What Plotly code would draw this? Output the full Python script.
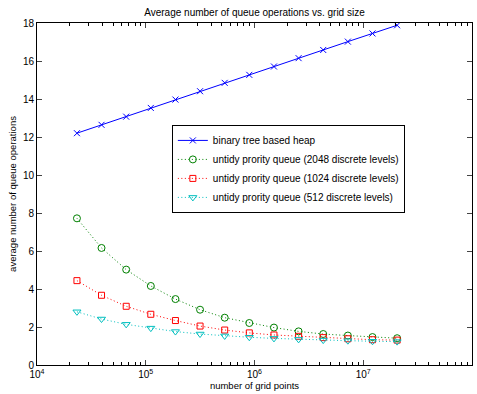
import plotly.graph_objects as go

grid_points = [23300, 39200, 66100, 111300, 187500, 315800, 532000, 896000,
               1510000, 2544000, 4285000, 7220000, 12160000, 20490000]
heap = [12.2, 12.64, 13.07, 13.53, 13.97, 14.41, 14.85, 15.27, 15.71, 16.15,
        16.58, 17.02, 17.45, 17.88]
untidy_2048 = [7.72, 6.16, 5.02, 4.16, 3.47, 2.91, 2.49, 2.21, 1.97, 1.77,
               1.63, 1.55, 1.47, 1.41]
untidy_1024 = [4.44, 3.67, 3.09, 2.67, 2.34, 2.05, 1.84, 1.69, 1.58, 1.51,
               1.44, 1.38, 1.33, 1.31]
untidy_512 = [2.8, 2.42, 2.14, 1.94, 1.76, 1.63, 1.53, 1.46, 1.4, 1.35,
              1.31, 1.28, 1.25, 1.23]

names = ["binary tree based heap",
         "untidy prority queue (2048 discrete levels)",
         "untidy prority queue (1024 discrete levels)",
         "untidy prority queue (512 discrete levels)"]

x_tickvals = [1e4, 1e5, 1e6, 1e7, 1e8]
x_ticktext = ["10<sup>4</sup>", "10<sup>5</sup>", "10<sup>6</sup>",
              "10<sup>7</sup>", "10<sup>8</sup>"]
y_tickvals = [0, 2, 4, 6, 8, 10, 12, 14, 16, 18]

minor_vals = [m * 10 ** e for e in range(4, 8) for m in range(2, 10)]

dotted = "1px,2.5px"

fig = go.Figure()
fig.add_trace(go.Scatter(x=grid_points, y=heap, name=names[0], mode="lines+markers",
                         line=dict(color="#0000ff", width=1),
                         marker=dict(symbol="x-thin-open", size=6,
                                     line=dict(color="#0000ff", width=1))))
fig.add_trace(go.Scatter(x=grid_points, y=untidy_2048, name=names[1], mode="lines+markers",
                         line=dict(color="#008000", width=1, dash=dotted),
                         marker=dict(symbol="circle-open", size=7,
                                     line=dict(color="#008000", width=1))))
fig.add_trace(go.Scatter(x=grid_points, y=untidy_1024, name=names[2], mode="lines+markers",
                         line=dict(color="#ff0000", width=1, dash=dotted),
                         marker=dict(symbol="square-open", size=6,
                                     line=dict(color="#ff0000", width=1))))
fig.add_trace(go.Scatter(x=grid_points, y=untidy_512, name=names[3], mode="lines+markers",
                         line=dict(color="#00bfbf", width=1, dash=dotted),
                         marker=dict(symbol="triangle-down-open", size=7,
                                     line=dict(color="#00bfbf", width=1))))

fig.update_layout(
    width=477, height=394,
    margin=dict(l=37, r=5, t=23, b=29, autoexpand=False),
    paper_bgcolor="white", plot_bgcolor="white",
    font=dict(family="Liberation Sans, Arial, sans-serif", size=10, color="black"),
    title=dict(text="Average number of queue operations vs. grid size",
               x=0.5, xref="paper", xanchor="center", y=1 - 12 / 394, yanchor="middle",
               font=dict(size=10)),
    showlegend=True,
    legend=dict(x=0.31, y=0.702, xanchor="left", yanchor="top",
                bgcolor="white", bordercolor="black", borderwidth=1,
                font=dict(size=10), tracegroupgap=0, itemwidth=30),
)
fig.update_xaxes(type="log", range=[4, 8], tickvals=x_tickvals, ticktext=x_ticktext,
                 ticks="inside", ticklen=5, showline=True, linecolor="black",
                 linewidth=1, mirror="allticks", showgrid=False, zeroline=False,
                 automargin=False,
                 minor=dict(tickvals=minor_vals, ticks="inside", ticklen=3,
                            tickcolor="black", showgrid=False),
                 title=dict(text="number of grid points", standoff=2, font=dict(size=9.5)))
fig.update_yaxes(range=[0, 18], tickvals=y_tickvals, ticks="inside", ticklen=5,
                 showline=True, linecolor="black", linewidth=1, mirror="allticks",
                 showgrid=False, zeroline=False, automargin=False,
                 title=dict(text="average number of queue operations", standoff=4,
                            font=dict(size=9.5)))

fig.write_html("out.html", config={"displayModeBar": False},
               post_script="document.body.style.margin='0px';document.body.style.overflow='hidden';")
